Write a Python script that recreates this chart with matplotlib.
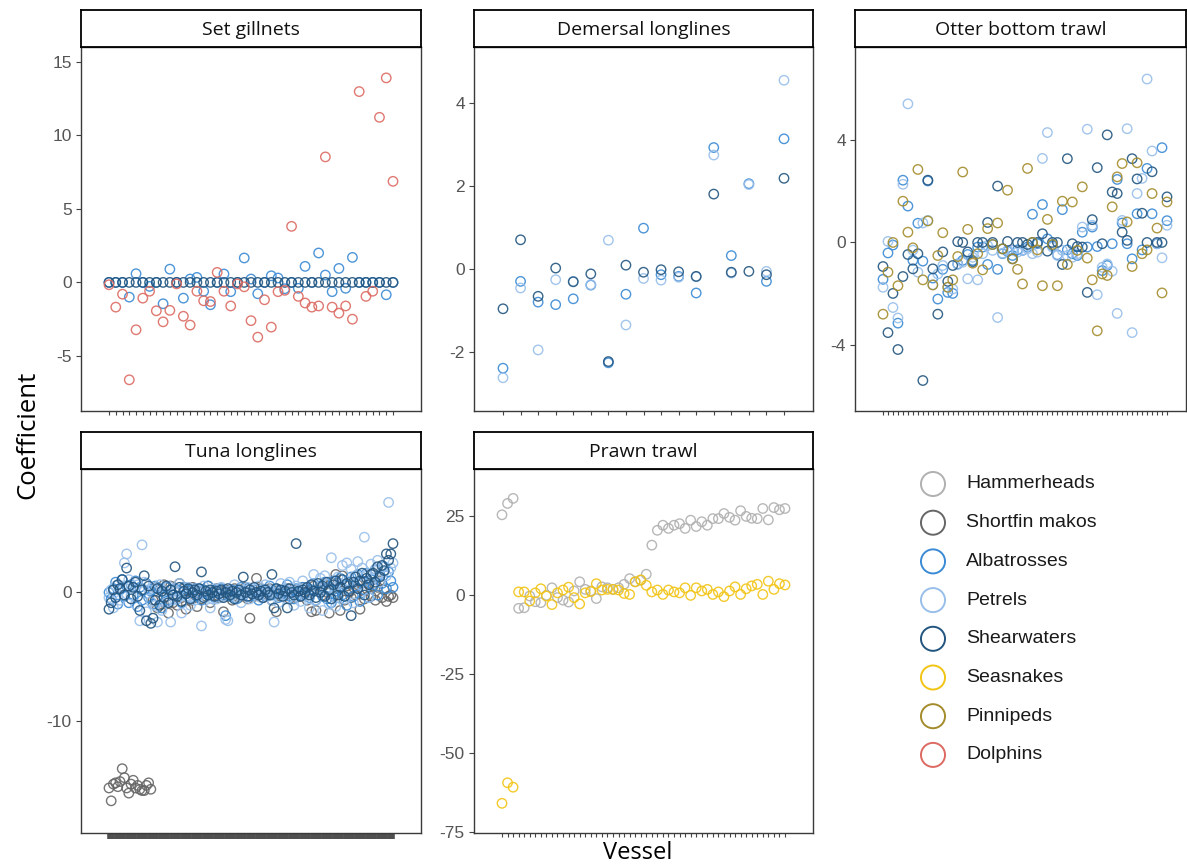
"""
Coeficientes por buque para cada arte de pesca (facetas estilo ggplot).
"""
import numpy as np
import matplotlib
matplotlib.use("Agg")
import matplotlib.pyplot as plt

W, H = 1187, 867
plt.rcParams['axes.unicode_minus'] = False

SPECIES = ["Hammerheads", "Shortfin makos", "Albatrosses", "Petrels",
           "Shearwaters", "Seasnakes", "Pinnipeds", "Dolphins"]
COLORS = {
    "Hammerheads": "#b0b0b0",
    "Shortfin makos": "#666666",
    "Albatrosses": "#3a8ad4",
    "Petrels": "#98bfea",
    "Shearwaters": "#22557f",
    "Seasnakes": "#f2c414",
    "Pinnipeds": "#a48c2c",
    "Dolphins": "#dc6a62",
}

# ---------------------------------------------------------------- datos
# Set gillnets (43 buques)
gill_albatrosses = [0, 0, 0, -1.0, 0.59, 0, -0.27, 0, -1.45, 0.9,
                    0, -1.07, 0.23, 0.34, -0.6, -1.52, 0, 0.57, -0.63, 0,
                    1.66, 0.23, -0.77, 0, 0.45, 0.3, -0.43, 0, -0.4, 1.09,
                    0, 2.0, 0.5, -0.63, 0.95, -0.4, 1.7, 0, 0, 0,
                    0, -0.84, 0]
gill_shearwaters = [0, 0, 0, 0, 0, 0, 0, 0, 0, 0,
                    0, 0, 0, 0, 0, 0, 0, 0, 0, 0,
                    0, 0, 0, 0, 0, 0, 0, 0, 0, 0,
                    0, 0, 0, 0, 0, 0, 0, 0, 0, 0,
                    0, 0, 0]
gill_dolphins = [-0.16, -1.68, -0.8, -6.62, -3.22, -1.07, -0.6, -1.93, -2.68, -1.9,
                 -0.1, -2.3, -2.9, -0.6, -1.25, -1.3, 0.68, -0.6, -1.6, -0.1,
                 -0.3, -2.6, -3.72, -1.18, -3.04, -0.63, -0.54, 3.81, -0.95, -1.4,
                 -1.68, -1.6, 8.53, -1.68, -2.09, -1.6, -2.5, 12.97, -0.95, -0.6,
                 11.22, 13.9, 6.87]

# Demersal longlines (17 buques)
dem_albatrosses = [-2.39, -0.3, -0.8, -0.86, -0.72, -0.39, -2.26, -0.61, 0.98, -0.14,
                   -0.18, -0.58, 2.92, 0.32, 2.05, -0.3, 3.13]
dem_petrels = [-2.62, -0.46, -1.95, -0.26, -0.3, -0.38, 0.69, -1.35, -0.23, -0.27,
               -0.2, -0.19, 2.74, -0.1, 2.03, -0.06, 4.54]
dem_shearwaters = [-0.96, 0.7, -0.66, 0.02, -0.31, -0.12, -2.23, 0.09, -0.08, -0.02,
                   -0.07, -0.18, 1.8, -0.08, -0.06, -0.14, 2.18]

# Otter bottom trawl (58 buques)
otter_albatrosses = [-1.44, -0.41, -0.1, -3.15, 2.43, 1.42, -0.7, 0.75, -0.73, 2.4,
                     -1.39, -2.21, -1.05, -1.95, -1.99, -0.84, -0.7, -0.47, -0.7, -0.18,
                     -0.18, -0.86, -0.08, -1.05, -0.44, -0.35, -0.51, -0.29, -0.31, -0.18,
                     1.1, -0.05, 1.48, 0.14, -0.12, -0.48, 1.28, -0.29, -0.44, -0.51,
                     0.4, -0.18, 0.6, -0.16, -1.1, -0.9, -0.05, 2.46, 0.76, -0.05,
                     -0.64, 1.12, -0.29, 2.89, 1.12, -0.05, 3.7, 0.85]
otter_petrels = [-1.75, 0.04, -2.54, -2.95, 2.27, 5.41, -0.3, -1.16, 0.76, 0.86,
                 -1.65, -1.23, -0.9, -1.75, -1.82, -0.86, -0.77, -1.42, -0.58, -1.46,
                 -0.44, -0.12, -0.31, -2.93, -0.42, -0.31, -0.31, -0.38, -0.31, -0.25,
                 -0.44, -0.38, 3.28, 4.29, -0.18, -0.51, -0.31, -0.51, -0.58, -0.44,
                 0.6, 4.42, 0.67, -2.04, -0.97, -0.84, -1.12, -2.77, 0.86, 4.44,
                 -3.52, 1.91, 2.5, 6.38, 3.57, -0.05, -0.6, 0.67]
otter_shearwaters = [-0.94, -3.52, -1.99, -4.18, -1.33, -0.47, -1.03, -0.44, -5.39, 2.43,
                     -1.03, -2.8, -0.37, -1.52, -0.9, 0.03, 0.0, -0.37, -0.75, 0.0,
                     0.0, 0.78, 0.0, 2.2, -0.25, 0.04, -0.64, 0.0, 0.0, -0.08,
                     0.0, 0.0, 0.34, -0.34, 0.0, 0.0, -0.86, 3.27, -0.05, -0.16,
                     -0.18, -1.95, 0.89, 2.92, -0.05, 4.2, 1.97, 1.91, 0.4, 0.08,
                     3.27, 2.48, 1.14, 0.0, 2.76, 0.0, 0.0, 1.78]
otter_pinnipeds = [-2.8, -1.16, 0.0, -1.69, 1.61, 0.4, -0.21, 2.85, -1.46, 0.84,
                   -1.66, -0.51, 0.38, -1.75, -1.46, -0.55, 2.75, 0.51, -0.81, -0.44,
                   -1.07, 0.54, -0.08, 0.76, -0.25, 2.04, -0.64, -1.05, -1.62, 2.89,
                   0.0, -0.29, -1.69, 0.9, -0.08, -1.69, 1.61, -0.86, 1.58, -0.31,
                   2.17, -0.61, -1.46, -3.45, -1.23, -1.29, 1.39, 2.56, 3.08, 0.8,
                   -0.94, 3.11, -0.44, -0.29, 1.91, 0.56, -1.97, 1.58]

# Tuna longlines (130 buques)
tuna_makos = [-15.2, -16.2, -14.9, -14.8, -15.1, -14.7, -13.7, -14.4, -15.2, -15.6,
              -14.9, -14.6, -15.2, -15.0, -15.3, -15.4, -15.4, -15.0, -14.8, -15.3,
              -0.6, 0.4, -1.2, 0.2, -0.9, 0.6, -0.3, -1.6, 0.5, -0.8,
              0.2, -1.0, 0.7, -0.4, 0.3, -1.3, 0.1, -0.6, 0.4, -0.2,
              -1.1, 0.3, -0.5, 0.2, -0.3, 0.5, -0.8, 0.1, -0.2, 0.3,
              -0.4, 0.0, -1.5, 0.2, -0.3, 0.1, -0.6, 0.3, -0.1, -0.4,
              0.2, -0.2, 0.4, -0.5, -2.0, 0.1, -0.3, 1.1, -0.1, 0.3,
              -0.4, 0.1, -0.2, 0.3, -0.6, 0.0, -1.5, 0.2, -0.3, 0.1,
              -0.2, 0.3, -0.5, 0.0, 0.2, -0.4, 0.1, -0.3, 0.4, -0.1,
              -0.6, 0.2, -1.5, 0.5, -1.4, 0.1, 0.4, -0.2, 0.6, 0.0,
              -1.6, 0.8, -0.3, 1.4, 0.7, -1.4, 1.3, -0.6, 0.5, 0.0,
              -0.4, 0.4, -0.2, 0.6, -1.3, 0.2, -0.5, 0.3, 0.7, -0.3,
              0.5, -0.6, 0.4, 0.9, -0.4, 0.2, -0.7, -0.3, -0.2, -0.4]
tuna_albatrosses = [0.0, -0.5, 0.3, 0.8, -0.9, 0.2, 1.0, -0.3, 0.5, -0.8,
                    0.6, -0.2, 0.9, -1.1, 0.4, -0.6, 0.2, 0.7, -0.4, 0.1,
                    -0.9, 0.5, -0.3, 0.3, -1.2, 0.0, 0.4, -0.6, 0.2, -0.2,
                    0.3, -0.5, 0.1, -0.8, 0.4, -0.1, 0.2, -0.4, 0.0, 0.3,
                    -0.3, 0.1, -0.6, 0.2, -0.1, 0.5, -0.2, 0.0, -0.4, 0.2,
                    -0.1, 0.3, -0.2, -1.8, 0.1, -0.3, 0.2, 0.0, -0.5, 0.1,
                    0.4, -0.2, 0.0, 0.3, -0.3, 0.1, -0.1, 0.2, -0.6, 0.0,
                    0.2, -0.3, 0.1, 0.5, -0.2, 0.0, 0.3, -0.4, 0.1, -0.1,
                    0.2, 0.6, -0.3, 0.1, -0.5, 0.3, 0.0, -0.2, 0.4, -0.1,
                    0.3, -0.4, 0.2, 0.7, -0.6, 0.1, 0.5, -0.3, 0.8, -0.5,
                    0.4, -0.8, 0.9, 0.1, -0.4, 1.1, -0.2, 0.6, -1.0, 0.8,
                    1.2, -0.3, 0.5, 1.4, -0.7, 0.9, 0.2, 1.5, -0.4, 1.0,
                    0.6, 1.8, -0.2, 1.3, 0.7, 2.0, 0.3, 1.6, 0.9, 0.4]
tuna_petrels = [-0.4, 0.2, -1.2, 0.5, -0.3, -0.6, 0.5, 2.3, 3.0, 1.0,
                -0.2, 0.3, -0.9, 0.6, -2.2, 3.7, 0.8, -1.5, 0.2, -0.7,
                0.4, -1.0, -2.3, 0.6, -1.4, 0.1, -0.8, 0.5, -2.3, -0.6,
                0.2, -0.5, 0.7, -1.6, 0.0, -0.3, 0.4, -1.0, 0.1, -0.6,
                0.3, -0.2, -2.6, 0.5, -0.4, 0.1, -1.2, -0.5, 0.3, -0.5,
                0.0, 0.4, -0.3, -2.1, -2.2, 0.1, -0.2, 0.6, -0.4, 0.0,
                -0.8, 0.2, -0.1, 0.4, -0.5, 0.0, 0.3, -0.2, 0.5, -0.4,
                0.1, 0.6, -0.3, 0.2, -0.6, -2.3, 0.0, -0.8, 0.7, -0.2,
                0.3, -0.5, 0.8, -0.1, -1.0, 0.5, 0.2, -0.7, 0.9, -0.3,
                0.4, -1.2, 0.6, 1.4, -0.6, 0.3, 1.1, -1.4, 1.3, 0.2,
                -0.9, 2.7, 0.4, -1.1, 1.2, 0.7, 2.1, -0.5, 2.3, 0.9,
                1.8, -0.8, 1.3, 2.4, 0.6, 1.9, 4.3, 1.4, -0.4, 2.2,
                1.1, 1.8, 2.5, 0.8, 2.0, 1.6, 1.3, 7.0, 1.9, 2.3]
tuna_shearwaters = [-1.3, -0.8, 0.2, -0.4, 0.6, 0.3, 1.0, -0.2, 1.9, 0.5,
                    -0.5, 0.4, 0.8, -0.3, -1.4, 0.2, 1.3, -2.2, 0.5, -2.4,
                    -2.0, -0.6, 0.3, -1.0, 0.1, -0.4, 0.5, -0.8, 0.2, -0.2,
                    2.0, -0.3, 0.4, -0.7, 0.1, -0.1, 0.3, -0.5, 0.0, 0.2,
                    -0.2, 0.3, 1.6, -0.4, 0.1, -0.2, 0.2, 0.0, -0.3, 0.1,
                    -0.1, 0.2, -0.4, 0.0, 0.3, -0.2, 0.1, -0.5, 0.0, 0.2,
                    -0.2, 1.2, 0.0, -0.3, 0.2, -0.1, 0.4, 0.0, -0.2, 0.1,
                    -0.4, 0.2, 0.0, -0.2, 1.4, -1.2, 0.3, -0.1, 0.2, -0.3,
                    0.1, -1.2, 0.3, 0.0, -0.2, 3.8, 0.1, -0.3, 0.2, 0.0,
                    0.4, -0.2, 0.6, 0.1, -0.4, 0.7, 0.0, 0.5, -0.3, 0.8,
                    0.2, -0.5, 0.6, 0.9, -0.2, 0.4, 1.0, -0.3, 0.7, 0.1,
                    -1.8, 0.8, 1.2, 0.3, 0.9, 1.5, -0.2, 1.1, 0.6, 1.4,
                    1.5, 0.8, 2.0, 1.2, 2.1, 1.7, 3.0, 2.5, 3.0, 3.8]

# Prawn trawl (52 buques)
prawn_hammerheads = [25.4, 29.0, 30.6, -4.2, -4.0, -0.3, -2.1, -2.4, -0.1, 2.3,
                     -0.8, -1.6, -2.2, 1.3, 4.2, 1.8, 1.3, -1.1, 2.6, 2.3,
                     1.8, 2.3, 3.4, 5.2, 4.2, 4.7, 6.6, 15.8, 20.5, 22.1,
                     21.1, 22.1, 22.6, 21.1, 23.7, 21.7, 23.2, 22.1, 24.2, 24.2,
                     25.8, 24.6, 23.7, 26.7, 24.9, 24.3, 24.2, 27.4, 23.8, 27.7,
                     27.0, 27.4]
prawn_seasnakes = [-65.9, -59.4, -60.8, 1.0, 1.0, -1.9, 0.7, 2.0, -0.3, -3.0,
                   0.7, 1.6, 2.5, -0.8, -2.8, 0.7, 1.1, 3.6, 1.6, 1.8,
                   1.8, 1.6, 0.5, 0.2, 4.2, 4.8, 3.1, 1.0, 1.6, 0.2,
                   1.6, 1.0, 0.7, 2.3, -0.1, 2.3, 1.3, 1.8, 0.2, 1.0,
                   -0.5, 1.3, 2.6, 0.2, 2.0, 2.9, 3.4, 0.2, 4.4, 1.8,
                   3.6, 3.2]

# ---------------------------------------------------------------- paneles
# (titulo, caja en px [izq, arriba, der, abajo], ticks x en px, ylim, yticks, series)
paneles = [
    ("Set gillnets", (81, 47, 421, 411), (109, 393), (-8.74, 16.0), [-5, 0, 5, 10, 15],
     {"Albatrosses": gill_albatrosses, "Shearwaters": gill_shearwaters,
      "Dolphins": gill_dolphins}),
    ("Demersal longlines", (474, 47, 813, 411), (503, 784), (-3.42, 5.34), [-2, 0, 2, 4],
     {"Albatrosses": dem_albatrosses, "Petrels": dem_petrels,
      "Shearwaters": dem_shearwaters}),
    ("Otter bottom trawl", (855, 47, 1186, 411), (883, 1167), (-6.58, 7.63), [-4, 0, 4],
     {"Albatrosses": otter_albatrosses, "Petrels": otter_petrels,
      "Shearwaters": otter_shearwaters, "Pinnipeds": otter_pinnipeds}),
    ("Tuna longlines", (81, 469, 421, 833), (109, 393), (-18.7, 9.6), [-10, 0],
     {"Shortfin makos": tuna_makos, "Albatrosses": tuna_albatrosses,
      "Petrels": tuna_petrels, "Shearwaters": tuna_shearwaters}),
    ("Prawn trawl", (474, 469, 813, 833), (502, 785), (-75.3, 39.9), [-75, -50, -25, 0, 25],
     {"Hammerheads": prawn_hammerheads, "Seasnakes": prawn_seasnakes}),
]


def rect_px(l, t, r, b):
    return [l / W, 1 - b / H, (r - l) / W, (b - t) / H]


fig = plt.figure(figsize=(W / 100, H / 100), dpi=100)
fig.patch.set_facecolor("white")

for titulo, (l, t, r, b), (x0, x1), ylim, yticks, series in paneles:
    n = len(next(iter(series.values())))
    paso = (x1 - x0) / (n - 1)
    ax = fig.add_axes(rect_px(l, t, r, b))
    for sp in SPECIES:
        if sp not in series:
            continue
        ax.scatter(np.arange(n), series[sp], s=46, facecolors="none",
                   edgecolors=COLORS[sp], linewidths=1.0, alpha=0.9, zorder=3)
    ax.set_xlim((l - x0) / paso, (r - x0) / paso)
    ax.set_ylim(*ylim)
    ax.set_xticks(np.arange(n))
    ax.set_xticklabels([])
    ax.set_yticks(yticks)
    ax.set_yticklabels([str(v) for v in yticks], fontsize=12.5, color="#555555",
                       family="Liberation Sans")
    ax.tick_params(axis="y", length=3.6, width=0.8, color="#444444", pad=3)
    if n > 100:
        # muchos buques: las marcas se funden en una barra continua
        ax.tick_params(axis="x", length=4.5, width=2.6, color="#4f4f4f")
    else:
        ax.tick_params(axis="x", length=3.2, width=0.8, color="#444444")
    for s in ax.spines.values():
        s.set_color("#3a3a3a")
        s.set_linewidth(1.0)

    # tira del titulo
    sx = fig.add_axes(rect_px(l, t - 37, r, t))
    sx.set_xticks([])
    sx.set_yticks([])
    sx.set_facecolor("white")
    for s in sx.spines.values():
        s.set_color("black")
        s.set_linewidth(1.3)
    sx.text(0.5, 0.47, titulo, ha="center", va="center", fontsize=14,
            family="Open Sans", color="#111111", transform=sx.transAxes)

# etiquetas de ejes
fig.text(28 / W, 1 - 435 / H, "Coefficient", rotation=90, ha="center", va="center",
         fontsize=18.5, family="Open Sans", color="black")
fig.text(638 / W, 1 - 853 / H, "Vessel", ha="center", va="center",
         fontsize=17, family="Open Sans", color="black")

# leyenda
lg = fig.add_axes([0, 0, 1, 1], facecolor="none")
lg.set_xlim(0, W)
lg.set_ylim(H, 0)
lg.axis("off")
fila0, dy = 484, 38.7
for k, sp in enumerate(SPECIES):
    yk = fila0 + k * dy
    lg.scatter([933], [yk], s=300, facecolors="none", edgecolors=COLORS[sp],
               linewidths=1.4)
    lg.text(966, yk, sp, ha="left", va="center", fontsize=14,
            family="Liberation Sans", color="#1a1a1a")

fig.savefig("out.png", dpi=100, facecolor="white")
